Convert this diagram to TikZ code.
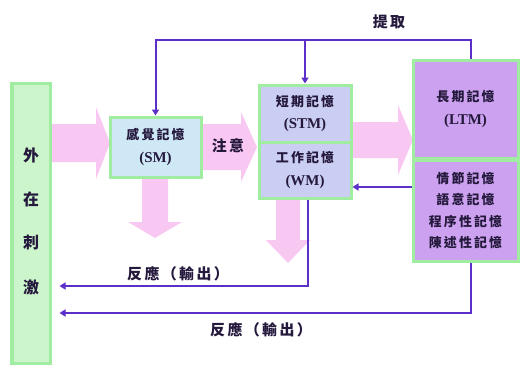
\documentclass[tikz,border=0pt]{standalone}
\usepackage{fontspec}
\setmainfont{Liberation Serif}
\newfontfamily\cjk[LetterSpace=16]{Noto Sans CJK TC}
\usetikzlibrary{arrows.meta}
\definecolor{pinkarr}{RGB}{249,200,242}
\definecolor{barfill}{RGB}{204,245,204}
\definecolor{greenline}{RGB}{160,236,160}
\definecolor{smfill}{RGB}{206,232,246}
\definecolor{stmfill}{RGB}{202,206,242}
\definecolor{ltmfill}{RGB}{204,162,240}
\definecolor{conncol}{RGB}{92,48,200}
\definecolor{txtcol}{RGB}{36,24,60}
\newcommand{\cj}[1]{{\cjk\bfseries #1}}
\newcommand{\lat}[1]{{\fontsize{15}{23}\selectfont\bfseries #1}}
\tikzset{
  box/.style={draw=greenline, line width=3bp, inner sep=0pt, align=center, text=txtcol,
    font=\fontsize{13}{23}\selectfont\bfseries},
  conn/.style={draw=conncol, line width=2bp, -{Triangle[length=6bp,width=7bp]}},
  lbl/.style={text=txtcol, font=\fontsize{15}{16}\selectfont, inner sep=0pt},
  barlbl/.style={text=txtcol, font=\fontsize{16}{17}\selectfont, inner sep=0pt},
  pinkarrow/.style={fill=pinkarr, draw=none}
}
\begin{document}
\begin{tikzpicture}[x=1bp,y=-1bp]
\useasboundingbox (0,0) rectangle (520,365);
% pink arrows (behind)
\fill[pinkarrow] (50,124) -- (96,124) -- (96,107) -- (110,143) -- (96,179) -- (96,162) -- (50,162) -- cycle;
\fill[pinkarrow] (201,124) -- (241,124) -- (241,112) -- (257,147) -- (241,182) -- (241,170) -- (201,170) -- cycle;
\fill[pinkarrow] (351,122) -- (398,122) -- (398,105) -- (413,140) -- (398,175) -- (398,158) -- (351,158) -- cycle;
\fill[pinkarrow] (142,177) -- (142,222) -- (128,222) -- (155,238) -- (182,222) -- (168,222) -- (168,177) -- cycle;
\fill[pinkarrow] (276,198) -- (276,240) -- (266,240) -- (288,263) -- (310,240) -- (300,240) -- (300,198) -- cycle;
% bar
\node[box, fill=barfill, minimum width=38bp, minimum height=280bp] (ext) at (31,223) {};
\node[barlbl] (e1) at (31,155) {\cj{外}};
\node[barlbl] (e2) at (31,199) {\cj{在}};
\node[barlbl] (e3) at (31,243) {\cj{刺}};
\node[barlbl] (e4) at (31,287) {\cj{激}};
% boxes
\node[box, fill=smfill, minimum width=91bp, minimum height=60bp] (SM) at (155.5,147) {\cj{感覺記憶}\\\lat{(SM)}};
\node[box, fill=stmfill, minimum width=92bp, minimum height=57bp] (STM) at (305,113.5) {\cj{短期記憶}\\\lat{(STM)}};
\node[box, fill=stmfill, minimum width=92bp, minimum height=56bp] (WM) at (305,170) {\cj{工作記憶}\\\lat{(WM)}};
\node[box, fill=ltmfill, minimum width=105bp, minimum height=98bp] (LTM) at (465.5,109) {\cj{長期記憶}\\\lat{(LTM)}};
\node[box, fill=ltmfill, minimum width=105bp, minimum height=101bp, font=\fontsize{13}{21.7}\selectfont] (LTM2) at (465.5,210.5) {\cj{情節記憶}\\\cj{語意記憶}\\\cj{程序性記憶}\\\cj{陳述性記憶}};
% connectors
\coordinate (t) at (471,40);
\coordinate (c1) at (0,187);
\coordinate (r1) at (308,286);
\coordinate (r2) at (471,313);
\draw[conn] (LTM.north -| t) -- (t) -| (SM.north);
\draw[conn] (STM.north |- t) -- (STM.north);
\draw[conn] (LTM2.west |- c1) -- (WM.east |- c1);
\draw[conn, shorten >=8bp] (WM.south -| r1) -- (r1) -- (ext.east |- r1);
\draw[conn, shorten >=8bp] (LTM2.south -| r2) -- (r2) -- (ext.east |- r2);
% labels
\node[lbl] (lt) at (389,22) {\cj{提取}};
\node[lbl] (la) at (228,146) {\cj{注意}};
\node[lbl] (lr1) at (178,274) {\cj{反應（輸出）}};
\node[lbl] (lr2) at (261,330) {\cj{反應（輸出）}};
\end{tikzpicture}
\end{document}
